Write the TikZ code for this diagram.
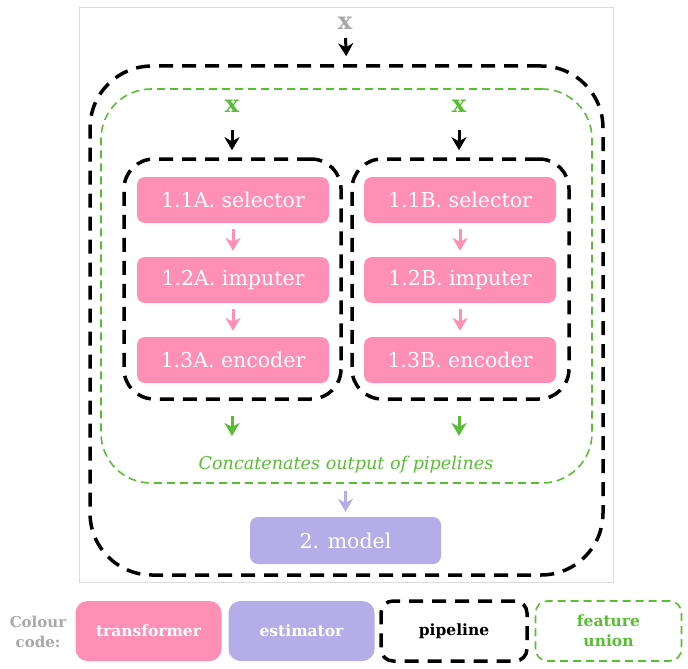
\documentclass[tikz,border=0pt]{standalone}
\usepackage{fontspec}
\setmainfont{DejaVu Serif}
\usetikzlibrary{arrows.meta}
\definecolor{pinkbox}{HTML}{FF8FB4}
\definecolor{purplebox}{HTML}{B4ADE8}
\definecolor{uniongreen}{HTML}{58BE32}
\definecolor{codegrey}{HTML}{A8A8A8}
\definecolor{framegrey}{HTML}{DCDCDC}
\tikzset{
  transformer/.style={fill=pinkbox, rounded corners=8, minimum width=192, minimum height=46,
    inner sep=0, text=white, font=\fontsize{20.5}{24}\selectfont},
  estimator/.style={transformer, fill=purplebox},
  pipe/.style={draw=black, line width=3.5pt, dash pattern=on 14pt off 9pt, inner sep=0},
  union/.style={draw=uniongreen, line width=1.6pt, dash pattern=on 8pt off 5pt, inner sep=0},
  xlabel/.style={font=\fontsize{24}{24}\selectfont\bfseries},
  legend/.style={minimum width=146, minimum height=60, rounded corners=12, inner sep=0,
    align=center, font=\fontsize{15.5}{20}\selectfont\bfseries},
  arr/.style={-{Stealth[width=15pt,length=13pt,inset=4pt]}, line width=3pt}
}
\begin{document}
\begin{tikzpicture}[x=1pt, y=-1pt]
  \useasboundingbox (0,0) rectangle (688,669);
  \draw[framegrey, line width=1pt] (79,8) rectangle (613,582);
  \node[pipe, rounded corners=62, minimum width=513, minimum height=509] (outer) at (346.5,320.5) {};
  \node[union, rounded corners=50, minimum width=491, minimum height=394] (fu) at (346.5,286) {};
  \node[pipe, rounded corners=30, minimum width=217, minimum height=240] (pipeA) at (232.5,279) {};
  \node[pipe, rounded corners=30, minimum width=217, minimum height=240] (pipeB) at (460.5,279) {};
  \node[xlabel, text=codegrey] (xtop) at (345,23) {x};
  \node[xlabel, text=uniongreen] (xA) at (232,106) {x};
  \node[xlabel, text=uniongreen] (xB) at (459,106) {x};
  \node[transformer] (selA) at (233,200) {1.1A. selector};
  \node[transformer] (impA) at (233,280) {1.2A. imputer};
  \node[transformer] (encA) at (233,360) {1.3A. encoder};
  \node[transformer] (selB) at (460,200) {1.1B. selector};
  \node[transformer] (impB) at (460,280) {1.2B. imputer};
  \node[transformer] (encB) at (460,360) {1.3B. encoder};
  \node[text=uniongreen, font=\fontsize{17.6}{20}\selectfont\itshape] (concat) at (346,465)
    {Concatenates output of pipelines};
  \node[estimator, minimum width=191, minimum height=47] (model) at (345.5,540.5) {2. model};
  \begin{scope}[arr]
    \draw[shorten <=15pt, shorten >=8pt] (xtop.center) -- (outer.north);
    \draw[shorten <=24pt, shorten >=7pt] (xA.center) -- (pipeA.north -| xA);
    \draw[shorten <=24pt, shorten >=7pt] (xB.center) -- (pipeB.north -| xB);
    \draw[pinkbox, shorten <=6pt, shorten >=6pt] (selA) -- (impA);
    \draw[pinkbox, shorten <=6pt, shorten >=6pt] (impA) -- (encA);
    \draw[pinkbox, shorten <=6pt, shorten >=6pt] (selB) -- (impB);
    \draw[pinkbox, shorten <=6pt, shorten >=6pt] (impB) -- (encB);
    \draw[uniongreen, shorten <=15pt, shorten >=17pt] (pipeA.south -| xA) -- (concat.north -| xA);
    \draw[uniongreen, shorten <=15pt, shorten >=17pt] (pipeB.south -| xB) -- (concat.north -| xB);
    \draw[purplebox, shorten <=7pt, shorten >=5pt] (fu.south -| model) -- (model.north);
  \end{scope}
  \node[text=codegrey, align=center, font=\fontsize{15}{20}\selectfont\bfseries] (code) at (38,632)
    {Colour\\code:};
  \node[legend, fill=pinkbox, text=white] (legT) at (148.5,631) {transformer};
  \node[legend, fill=purplebox, text=white] (legE) at (301.5,631) {estimator};
  \node[legend, pipe, rounded corners=12] (legP) at (454,631) {pipeline};
  \node[legend, union, rounded corners=12, text=uniongreen] (legU) at (608.5,631) {feature\\union};
\end{tikzpicture}
\end{document}
